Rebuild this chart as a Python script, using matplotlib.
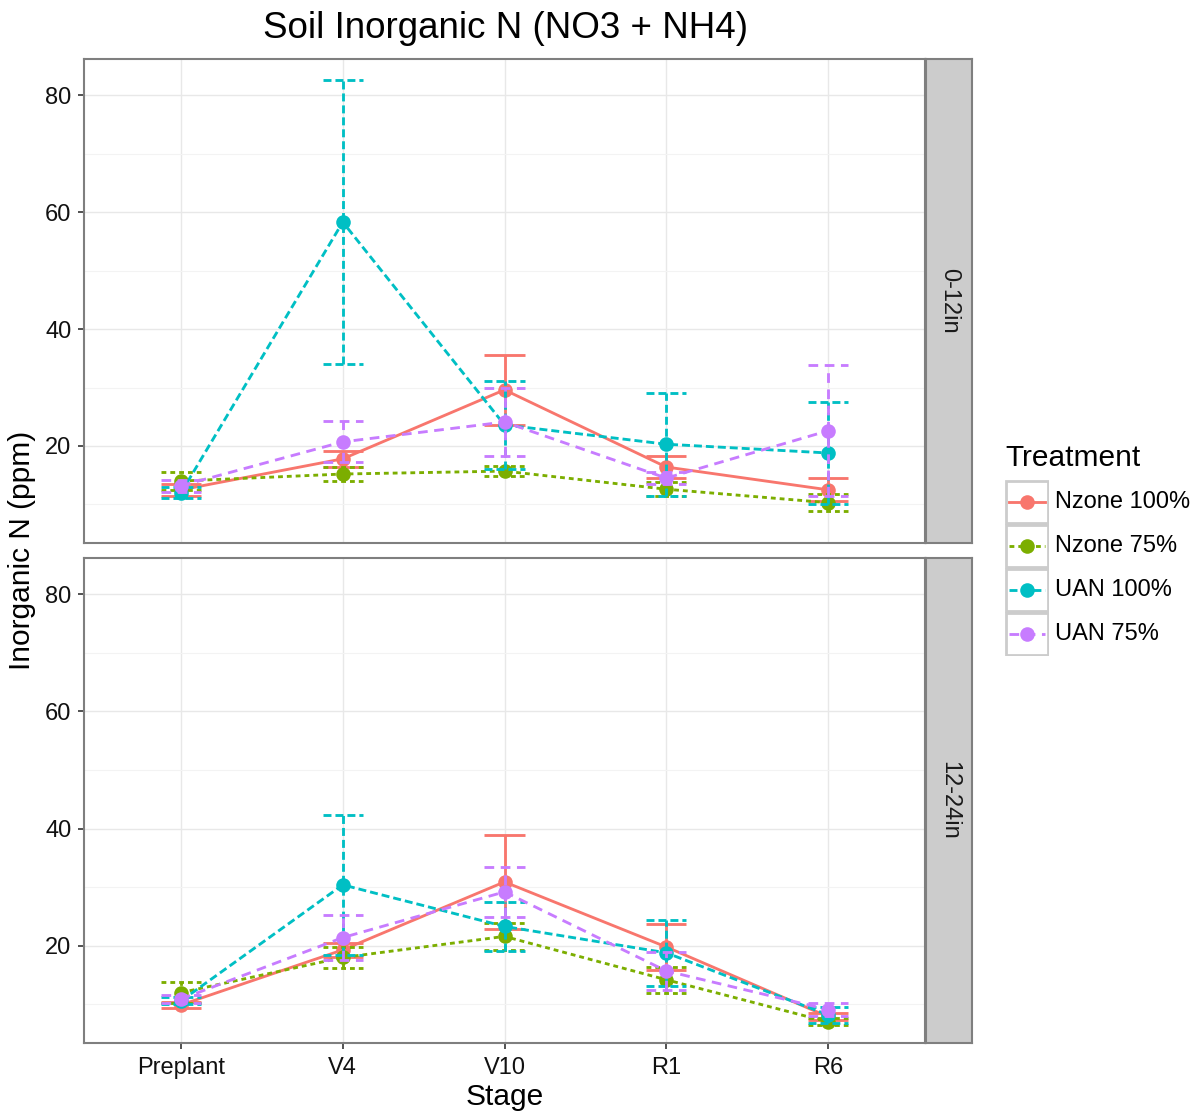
import matplotlib
matplotlib.use("Agg")
import matplotlib.pyplot as plt
from matplotlib.patches import Rectangle
from matplotlib.lines import Line2D
import numpy as np

plt.rcParams['font.family'] = ['Liberation Sans', 'DejaVu Sans']

stages = ['Preplant', 'V4', 'V10', 'R1', 'R6']
treatments = ['Nzone 100%', 'Nzone 75%', 'UAN 100%', 'UAN 75%']
depths = ['0-12in', '12-24in']

# 0-12in means and standard errors
top_nz100 = [12.5, 17.8, 29.6, 16.4, 12.5]
top_nz100_se = [1.0, 1.4, 6.0, 1.8, 2.0]
top_nz75 = [14.0, 15.2, 15.7, 12.6, 10.3]
top_nz75_se = [1.5, 1.2, 0.8, 1.2, 1.5]
top_uan100 = [12.0, 58.3, 23.6, 20.3, 18.8]
top_uan100_se = [0.9, 24.3, 7.5, 8.8, 8.7]
top_uan75 = [13.2, 20.7, 24.1, 14.5, 22.6]
top_uan75_se = [1.0, 3.5, 5.8, 1.0, 11.2]

# 12-24in means and standard errors
bot_nz100 = [9.9, 19.3, 30.9, 19.8, 7.9]
bot_nz100_se = [0.5, 1.2, 8.0, 4.0, 0.6]
bot_nz75 = [12.0, 18.0, 21.6, 14.2, 7.0]
bot_nz75_se = [1.8, 1.8, 2.3, 2.2, 0.6]
bot_uan100 = [10.6, 30.4, 23.3, 18.8, 8.2]
bot_uan100_se = [0.6, 12.0, 4.2, 5.6, 1.4]
bot_uan75 = [10.9, 21.4, 29.2, 15.7, 9.1]
bot_uan75_se = [0.7, 3.9, 4.3, 3.2, 1.1]

data = {
    '0-12in': [(top_nz100, top_nz100_se), (top_nz75, top_nz75_se),
               (top_uan100, top_uan100_se), (top_uan75, top_uan75_se)],
    '12-24in': [(bot_nz100, bot_nz100_se), (bot_nz75, bot_nz75_se),
                (bot_uan100, bot_uan100_se), (bot_uan75, bot_uan75_se)],
}

colors = ['#F8766D', '#7CAE00', '#00BFC4', '#C77CFF']
lstyles = ['-', (0, (1.7, 1.4)), (0, (2.8, 1.4)), (0, (3.4, 2.3))]
LW = 2.05
MS = 10.5
W, H = 1201, 1117
fig = plt.figure(figsize=(W / 100, H / 100), dpi=100)

def fx(px):
    return px / W

def fy(py):
    return 1 - py / H

panels = [(59, 543), (558, 1043)]
x = np.arange(1, len(stages) + 1)
halfcap = 0.125

axes = []
for (ptop, pbot), depth in zip(panels, depths):
    ax = fig.add_axes([fx(84), fy(pbot), fx(925 - 84), (pbot - ptop) / H])
    axes.append(ax)
    ax.set_xlim(0.4, 5.6)
    ax.set_ylim(3.4, 86.2)
    ax.set_yticks([20, 40, 60, 80])
    ax.set_yticks([10, 30, 50, 70], minor=True)
    ax.set_xticks(x)
    ax.grid(True, which='major', color='#e8e8e8', lw=1.0, zorder=0)
    ax.grid(True, which='minor', axis='y', color='#f3f3f3', lw=0.8, zorder=0)
    ax.set_axisbelow(True)
    for s in ax.spines.values():
        s.set_color('#7f7f7f')
        s.set_linewidth(1.5)
    ax.tick_params(axis='both', which='major', length=4, width=1.2, color='#333333',
                   labelsize=17, labelcolor='#111111')
    ax.tick_params(axis='y', which='major', pad=5)
    ax.tick_params(axis='x', which='major', pad=6)
    ax.tick_params(axis='both', which='minor', length=0)
    for i, (mean, se) in enumerate(data[depth]):
        m = np.array(mean)
        e = np.array(se)
        c = colors[i]
        ls = lstyles[i]
        z = 3 + i
        ax.vlines(x, m - e, m + e, colors=c, linestyles=[ls], lw=LW, zorder=z)
        ax.hlines(m - e, x - halfcap, x + halfcap, colors=c, linestyles=[ls], lw=LW, zorder=z)
        ax.hlines(m + e, x - halfcap, x + halfcap, colors=c, linestyles=[ls], lw=LW, zorder=z)
        ax.plot(x, m, color=c, linestyle=ls, lw=LW, zorder=z)
        ax.plot(x, m, 'o', color=c, ms=MS, mec='none', zorder=z + 0.5)
    # strip
    sax = fig.add_axes([fx(926), fy(pbot), fx(972 - 926), (pbot - ptop) / H])
    sax.set_xticks([])
    sax.set_yticks([])
    sax.set_facecolor('#cccccc')
    for s in sax.spines.values():
        s.set_color('#7f7f7f')
        s.set_linewidth(1.5)
    sax.text(0.5, 0.5, depth, rotation=270, ha='center', va='center',
             fontsize=17, color='#1a1a1a', transform=sax.transAxes)

axes[0].set_xticklabels([])
axes[0].tick_params(axis='x', length=0)
axes[1].set_xticklabels(stages)

fig.text(fx(505), fy(28), 'Soil Inorganic N (NO3 + NH4)', ha='center', va='center',
         fontsize=26.5, color='black')
fig.text(fx(505), fy(1097), 'Stage', ha='center', va='center', fontsize=21.5, color='black')
fig.text(fx(22), fy(550), 'Inorganic N (ppm)', ha='center', va='center', rotation=90,
         fontsize=21.5, color='black')

# legend
fig.text(fx(1005), fy(458), 'Treatment', ha='left', va='center', fontsize=21.5, color='black')
lax = fig.add_axes([fx(1005), fy(656), fx(1049 - 1005), (656 - 480) / H])
lax.set_xlim(0, 1)
lax.set_ylim(4, 0)
lax.axis('off')
for i, t in enumerate(treatments):
    lax.add_patch(Rectangle((0.02, i + 0.015), 0.96, 0.97, fill=False,
                            ec='#cccccc', lw=2.0))
    lax.add_line(Line2D([0.1, 0.9], [i + 0.5, i + 0.5], color=colors[i],
                        linestyle=lstyles[i], lw=LW))
    lax.add_line(Line2D([0.5], [i + 0.5], marker='o', color=colors[i], ms=MS, mec='none'))
    fig.text(fx(1055), fy(480 + 44 * i + 22), t, ha='left', va='center', fontsize=17,
             color='black')

fig.savefig('out.png', dpi=100, facecolor='white')
